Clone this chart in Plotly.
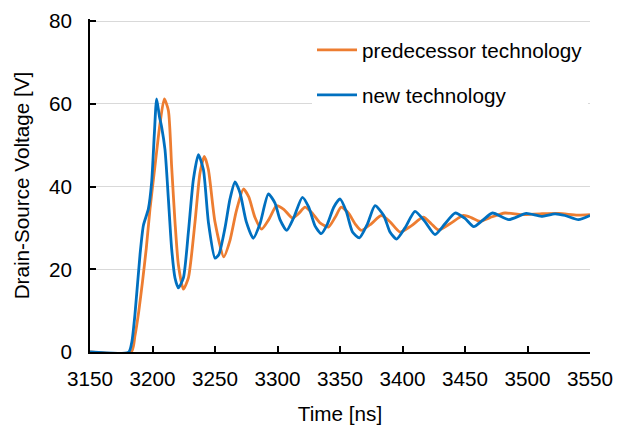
import plotly.graph_objects as go

# Time [ns] and Drain-Source Voltage [V]
pred_t = [3150, 3183, 3186, 3189, 3192, 3195, 3198, 3202, 3206, 3209.4, 3212.7, 3215.3, 3218,
          3220.7, 3224.7, 3228.7, 3234, 3238, 3241.5, 3244.7, 3250, 3257, 3262, 3267, 3272.7,
          3277, 3282, 3287.3, 3293, 3299.3, 3305, 3311.9, 3317, 3322, 3328, 3334, 3340.7, 3346,
          3351, 3357, 3362, 3367, 3375, 3383, 3390, 3398, 3407, 3416.7, 3423, 3428.7, 3438,
          3448.7, 3455, 3462, 3470, 3482, 3495, 3510, 3525, 3540, 3550]
pred_v = [0, 0, 4, 9.8, 17, 25, 34.6, 45, 55.2, 61.2, 58.4, 44.9, 31.4,
          21.1, 15.2, 17.9, 31.4, 43.3, 47.3, 44.1, 31.4, 23, 27, 34, 39.4,
          37.5, 32.5, 29.7, 32, 35.4, 34.5, 32.4, 33.5, 35, 33.5, 31.2, 30.2, 32.5,
          35, 33.5, 31, 29.4, 31, 33, 31.5, 29, 30.5, 32.6, 31, 29.5, 31,
          33, 32.5, 31.6, 32.5, 33.6, 33.2, 33.4, 33.5, 33.1, 33.2]

new_t = [3150, 3181, 3183.5, 3186, 3190, 3192.7, 3196.7, 3199.3, 3201.5, 3203.3, 3205.5, 3207.3,
         3210, 3212.7, 3215.3, 3218, 3220.7, 3224.7, 3228.7, 3232.7, 3236.7, 3240.7, 3244.7,
         3250, 3253, 3258, 3262, 3266, 3270, 3275, 3280.6, 3286, 3292.7, 3298, 3302, 3307.4,
         3313, 3319.9, 3325, 3330, 3335, 3340, 3345, 3350, 3355, 3360, 3365.5, 3372, 3378,
         3385, 3390, 3395.3, 3402, 3410, 3418, 3426, 3434, 3442, 3450, 3457, 3464, 3472,
         3485, 3499, 3511, 3522, 3530, 3540.7, 3550]
new_v = [0, 0, 2.5, 9.2, 23.5, 30.6, 34.6, 41, 52.9, 61.2, 57, 54.4,
         48.9, 37, 25, 17.9, 15.5, 17.9, 29, 41.7, 47.7, 44.1, 31.4,
         22.7, 23.5, 30, 37, 41.1, 38.5, 31.5, 27.5, 31, 38.2, 36, 32, 29.4,
         32.5, 37.4, 35, 30.5, 28.6, 31, 35, 37, 34, 29, 27.6, 31, 35.4,
         33, 29, 27.3, 30, 34, 31.5, 28.4, 31, 33.6, 32.3, 30.3, 31.8, 33.6,
         32, 33.5, 32.8, 33.4, 33, 32, 33]

series_names = ["predecessor technology", "new technology"]
x_ticks = [3150, 3200, 3250, 3300, 3350, 3400, 3450, 3500, 3550]
y_ticks = [0, 20, 40, 60, 80]

FONT = "Liberation Sans, Arial, sans-serif"
FS = 20.7

fig = go.Figure()
fig.add_trace(go.Scatter(x=pred_t, y=pred_v, mode="lines", name=series_names[0],
                         legendgroup="a",
                         line=dict(color="#ED7D31", width=2.8, shape="spline", smoothing=0.6)))
fig.add_trace(go.Scatter(x=new_t, y=new_v, mode="lines", name=series_names[1],
                         legendgroup="b",
                         line=dict(color="#0070C0", width=2.8, shape="spline", smoothing=0.6)))

axis_common = dict(showline=True, linecolor="black", linewidth=1.5, ticks="inside",
                   ticklen=6, tickcolor="black", tickwidth=1.5, zeroline=False,
                   automargin=False, ticklabeloverflow="allow",
                   tickfont=dict(family=FONT, size=FS, color="black"),
                   title_font=dict(family=FONT, size=FS, color="black"))

fig.update_xaxes(range=[3150, 3550], tickvals=x_ticks, ticktext=[str(v) for v in x_ticks],
                 showgrid=False, title_text="Time [ns]", title_standoff=18,
                 ticklabelstandoff=7, **axis_common)
fig.update_yaxes(range=[0, 80.5], tickvals=y_ticks, ticktext=[str(v) for v in y_ticks],
                 showgrid=True, gridcolor="#d9d9d9", gridwidth=1.2,
                 title_text="Drain-Source Voltage [V]", title_standoff=14,
                 ticklabelstandoff=12, **axis_common)

fig.update_layout(
    width=617, height=417,
    margin=dict(l=82, r=35, t=11, b=73),
    paper_bgcolor="white", plot_bgcolor="white",
    font=dict(family=FONT, size=FS, color="black"),
    showlegend=True,
    legend=dict(x=0.444, y=0.967, xanchor="left", yanchor="top",
                bgcolor="white", borderwidth=0, traceorder="grouped",
                tracegroupgap=15, itemwidth=40,
                font=dict(family=FONT, size=FS, color="black")),
)

fig.write_html("out.html")
